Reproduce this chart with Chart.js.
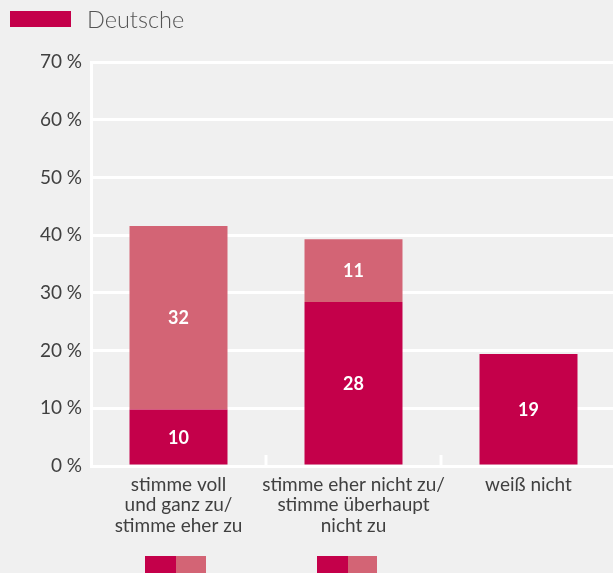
<!DOCTYPE html>
<html>
<head>
<meta charset="utf-8">
<script src="https://cdn.jsdelivr.net/npm/chart.js@4"></script>
<style>
  html, body { margin: 0; padding: 0; background: #f0f0f0; overflow: hidden; }
  body { width: 613px; height: 573px; position: relative; font-family: Lato, sans-serif; }
  #wrap { position: absolute; left: 0; top: 0; width: 616px; height: 573px; }
  #legende { position: absolute; left: 10px; top: 4px; height: 30px; display: flex; align-items: center; z-index: 2; }
  #legende .box { width: 61px; height: 16px; background: #c4004a; }
  #legende span { margin-left: 16px; font-size: 23.5px; font-weight: 300; color: #555; }
  .mini { position: absolute; top: 556px; height: 20px; display: flex; }
  .mini div { height: 20px; }
</style>
</head>
<body>
<div id="legende"><div class="box"></div><span>Deutsche</span></div>
<div id="wrap"><canvas id="grafica"></canvas></div>
<div class="mini" style="left:145px"><div style="width:31px;background:#c4004a"></div><div style="width:30px;background:#d36475"></div></div>
<div class="mini" style="left:317px"><div style="width:31px;background:#c4004a"></div><div style="width:29px;background:#d36475"></div></div>
<script>
const kategorien = [
  ["stimme voll", "und ganz zu/", "stimme eher zu"],
  ["stimme eher nicht zu/", "stimme überhaupt", "nicht zu"],
  "weiß nicht"
];
const stark = [9.8, 28.4, 19.4];
const schwach = [31.8, 10.9, null];
const yTicks = [0, 10, 20, 30, 40, 50, 60, 70];

const dunkel = "#c4004a";
const hell = "#d36475";

// Werte in die Balken schreiben
const wertePlugin = {
  id: "werte",
  afterDatasetsDraw(chart) {
    const ctx = chart.ctx;
    ctx.save();
    ctx.fillStyle = "#ffffff";
    ctx.font = "bold 18px Lato";
    ctx.textAlign = "center";
    ctx.textBaseline = "middle";
    chart.data.datasets.forEach((ds, i) => {
      chart.getDatasetMeta(i).data.forEach((bar, j) => {
        const v = ds.data[j];
        if (v === null || v === undefined) return;
        ctx.fillText(Math.round(v), bar.x, (bar.y + bar.base) / 2 + 1);
      });
    });
    ctx.restore();
  }
};

// kleine Striche zwischen den Kategorien
const strichePlugin = {
  id: "striche",
  afterDraw(chart) {
    const x = chart.scales.x;
    const ctx = chart.ctx;
    const unten = chart.chartArea.bottom;
    ctx.save();
    ctx.strokeStyle = "#ffffff";
    ctx.lineWidth = 3;
    for (let i = 1; i < kategorien.length; i++) {
      const px = (x.getPixelForValue(i - 1) + x.getPixelForValue(i)) / 2;
      ctx.beginPath();
      ctx.moveTo(px, unten);
      ctx.lineTo(px, unten - 11);
      ctx.stroke();
    }
    ctx.restore();
  }
};

new Chart(document.getElementById("grafica"), {
  type: "bar",
  data: {
    labels: kategorien,
    datasets: [
      { label: "stark", data: stark, backgroundColor: dunkel, categoryPercentage: 1, barPercentage: 0.56 },
      { label: "schwach", data: schwach, backgroundColor: hell, categoryPercentage: 1, barPercentage: 0.56 }
    ]
  },
  options: {
    responsive: true,
    maintainAspectRatio: false,
    animation: false,
    layout: { padding: { top: 62, right: 0, bottom: 0, left: 0 } },
    plugins: {
      legend: { display: false },
      tooltip: { enabled: false }
    },
    scales: {
      x: {
        stacked: true,
        afterFit(scale) { scale.height = 107; },
        grid: { display: false },
        border: { color: "#ffffff", width: 3 },
        ticks: {
          color: "#404040",
          font: { family: "Lato", size: 19, lineHeight: 1.1 },
          padding: 0,
          maxRotation: 0,
          autoSkip: false
        }
      },
      y: {
        stacked: true,
        min: 0,
        max: 70,
        afterFit(scale) { scale.width = 91; },
        afterBuildTicks(scale) { scale.ticks = yTicks.map(v => ({ value: v })); },
        grid: { color: "#ffffff", lineWidth: 3, drawTicks: false },
        border: { color: "#ffffff", width: 3 },
        ticks: {
          color: "#404040",
          font: { family: "Lato", size: 19 },
          padding: 9,
          callback: v => v + "\u202f%"
        }
      }
    }
  },
  plugins: [wertePlugin, strichePlugin]
});
</script>
</body>
</html>
